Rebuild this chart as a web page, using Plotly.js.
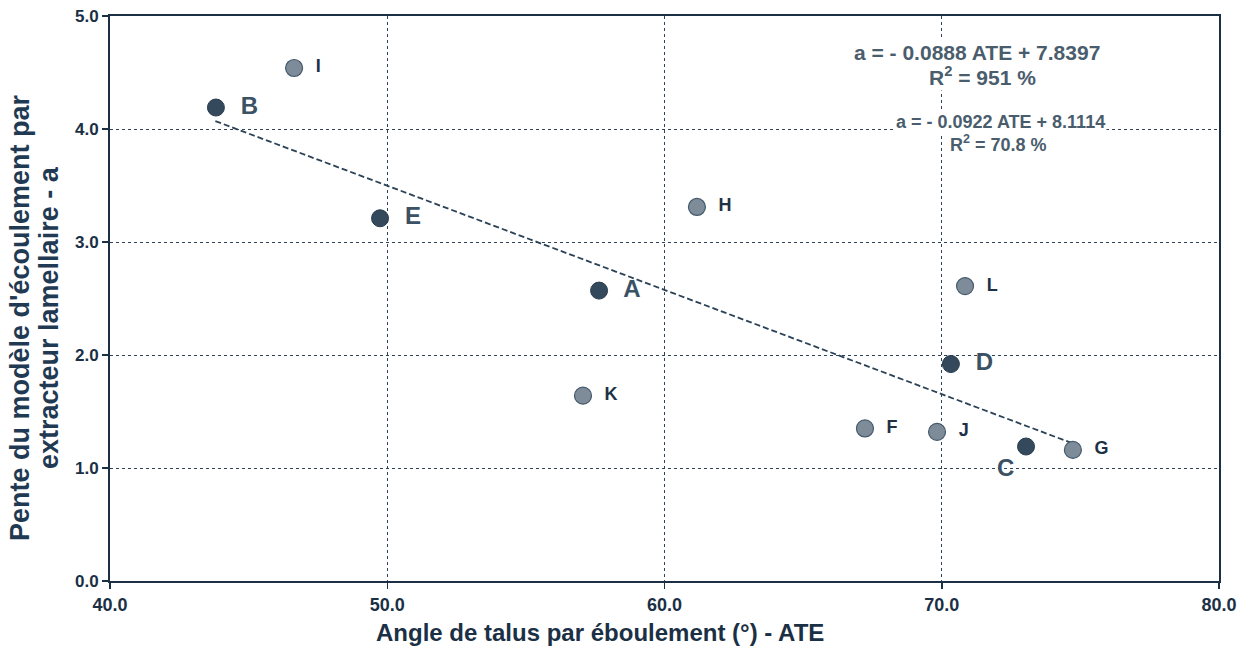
<!DOCTYPE html>
<html>
<head>
<meta charset="utf-8">
<script src="https://cdn.plot.ly/plotly-3.0.1.min.js"></script>
<style>html,body{margin:0;padding:0;background:#fff;}#chart{width:1249px;height:648px;}</style>
</head>
<body>
<div id="chart"></div>
<script>
// Dark (main) samples
const darkLabels = ["A", "B", "C", "D", "E"];
const darkATE = [57.64, 43.82, 73.04, 70.33, 49.74];
const darkSlope = [2.57, 4.19, 1.19, 1.92, 3.21];
// Light (other) samples
const lightLabels = ["F", "G", "H", "I", "J", "K", "L"];
const lightATE = [67.23, 74.73, 61.17, 46.64, 69.83, 57.06, 70.84];
const lightSlope = [1.35, 1.16, 3.31, 4.54, 1.32, 1.64, 2.61];
// Trend line endpoints
const trendATE = [43.8, 74.7];
const trendSlope = [4.07, 1.22];
// Axis ticks
const xTicks = [40, 50, 60, 70, 80];
const xTickText = ["40.0", "50.0", "60.0", "70.0", "80.0"];
const yTicks = [0, 1, 2, 3, 4, 5];
const yTickText = ["0.0", "1.0", "2.0", "3.0", "4.0", "5.0"];
// Texts
const xTitle = "Angle de talus par éboulement (°) - ATE";
const yTitleLines = ["Pente du modèle d'écoulement par", "extracteur lamellaire - a"];
const eq1Lines = ["a = - 0.0888 ATE + 7.8397", "R<sup>2</sup> = 951 %"];
const eq2Lines = ["a = - 0.0922 ATE + 8.1114", "R<sup>2</sup> = 70.8 %"];

const navy = "#1b3045";
const font = "Liberation Sans, Arial, sans-serif";

const darkPos = darkLabels.map(l => l === "C" ? "bottom left" : "middle right");

const traces = [
  {
    x: trendATE, y: trendSlope, mode: "lines", type: "scatter",
    line: {color: "#2b4257", width: 1.8, dash: "6px,3px"},
    hoverinfo: "skip", showlegend: false
  },
  {
    x: lightATE, y: lightSlope, mode: "markers+text", type: "scatter",
    text: lightLabels.map(t => "  " + t), textposition: "middle right",
    textfont: {family: font, size: 18, color: "#1d3145", weight: "bold"},
    marker: {size: 17, color: "#7d8c98", line: {color: "#44596b", width: 1.2}},
    showlegend: false
  },
  {
    x: darkATE, y: darkSlope, mode: "markers+text", type: "scatter",
    text: darkLabels.map(t => t === "C" ? t : "  " + t), textposition: darkPos,
    textfont: {family: font, size: 24, color: "#3b5164", weight: "bold"},
    marker: {size: 17, color: "#34495c", line: {color: "#2a3d50", width: 1}},
    showlegend: false
  }
];

// paper coordinate helpers (plot area: x 110..1219, y 16..581)
const px = v => (v - 110) / 1109;
const py = v => (581 - v) / 565;

function eqAnn(text, x, y, size, color) {
  return {x: px(x), y: py(y), xref: "paper", yref: "paper", text: text, showarrow: false,
    xanchor: "center", yanchor: "middle", align: "center",
    font: {family: font, size: size, color: color, weight: "bold"},
    bgcolor: "#ffffff", borderpad: 1};
}
function yTitleAnn(text, x) {
  return {x: px(x), y: py(318), xref: "paper", yref: "paper", text: text, showarrow: false,
    textangle: -90, xanchor: "center", yanchor: "middle",
    font: {family: font, size: 27, color: "#1f3a52", weight: "bold"}};
}

const layout = {
  width: 1249, height: 648,
  margin: {l: 110, r: 30, t: 16, b: 67},
  paper_bgcolor: "#fff", plot_bgcolor: "#fff",
  font: {family: font, color: navy},
  showlegend: false,
  xaxis: {
    range: [40, 80], tickvals: xTicks, ticktext: xTickText,
    showgrid: true, gridcolor: "#2e4358", griddash: "dot", gridwidth: 1,
    showline: true, linecolor: navy, linewidth: 2, mirror: true,
    ticks: "outside", ticklen: 6, tickcolor: navy, tickwidth: 1.5,
    zeroline: false,
    tickfont: {family: font, size: 18, color: navy, weight: "bold"}
  },
  yaxis: {
    range: [0, 5], tickvals: yTicks, ticktext: yTickText,
    showgrid: true, gridcolor: "#2e4358", griddash: "dot", gridwidth: 1,
    showline: true, linecolor: navy, linewidth: 2, mirror: true,
    ticks: "outside", ticklen: 6, tickcolor: navy, tickwidth: 1.5,
    zeroline: false,
    tickfont: {family: font, size: 17, color: navy, weight: "bold"}
  },
  annotations: [
    {x: px(600), y: py(632), xref: "paper", yref: "paper", text: xTitle, showarrow: false,
      xanchor: "center", yanchor: "middle",
      font: {family: font, size: 24, color: navy, weight: "bold"}},
    yTitleAnn(yTitleLines[0], 20),
    yTitleAnn(yTitleLines[1], 49),
    eqAnn(eq1Lines[0], 977, 52, 21, "#4a5d6d"),
    eqAnn(eq1Lines[1], 983, 76, 21, "#4a5d6d"),
    eqAnn(eq2Lines[0], 1000, 122, 18, "#4a5d6d"),
    eqAnn(eq2Lines[1], 998, 143, 18, "#4a5d6d")
  ]
};

Plotly.newPlot("chart", traces, layout, {displayModeBar: false, staticPlot: true});
</script>
</body>
</html>
